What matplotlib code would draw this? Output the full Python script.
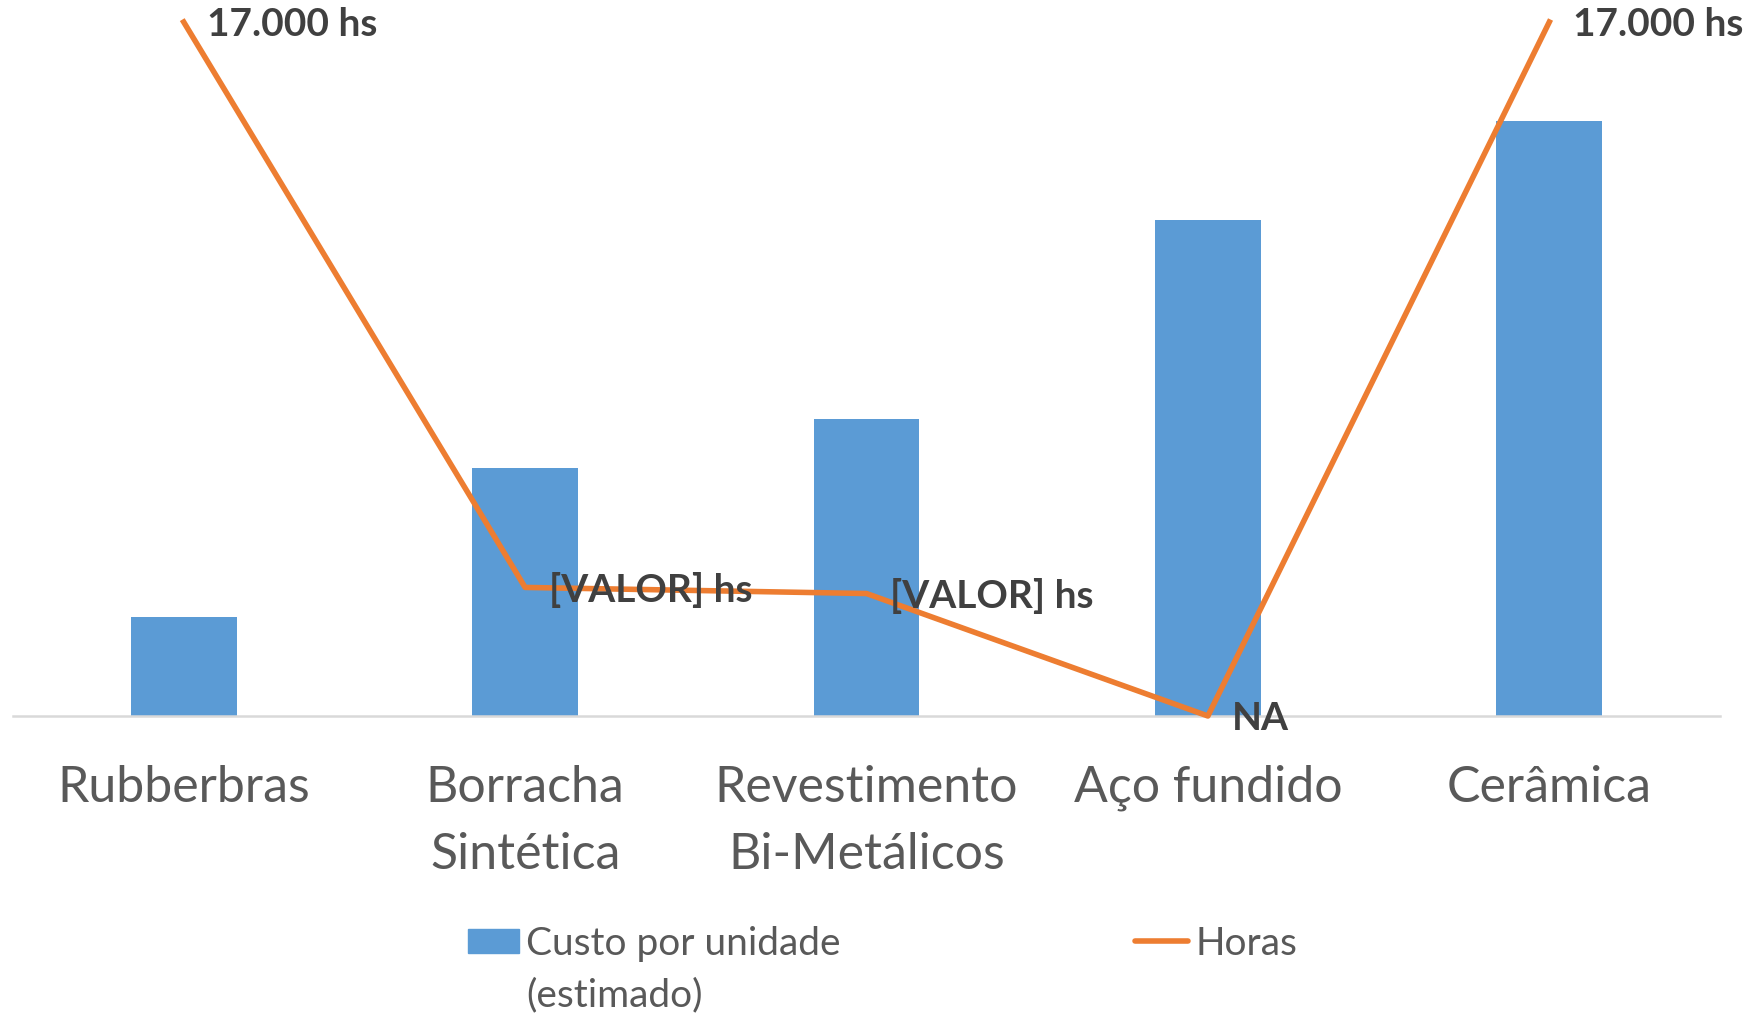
import matplotlib
matplotlib.use("Agg")
import matplotlib.pyplot as plt
from matplotlib.patches import Rectangle
from matplotlib.lines import Line2D
import numpy as np

# === Dados ===
categorias = ["Rubberbras", "Borracha\nSintética", "Revestimento\nBi-Metálicos", "Aço fundido", "Cerâmica"]
custo = [1.0, 2.5, 3.0, 5.0, 6.0]          # custo por unidade (estimado), escala relativa
horas = [17000, 3150, 3000, 0, 17000]
rotulos_horas = ["17.000 hs", "[VALOR] hs", "[VALOR] hs", "NA", "17.000 hs"]

AZUL = "#5B9BD5"
LARANJA = "#ED7D31"
CINZA_TXT = "#595959"
CINZA_ROT = "#404040"

plt.rcParams["font.family"] = ["Lato", "DejaVu Sans"]

fig = plt.figure(figsize=(17.51, 10.13), dpi=100)
W, H = 1751, 1013
ax = fig.add_axes([13 / W, (H - 716) / H, (1720 - 13) / W, (716 - 22) / H])
ax2 = ax.twinx()

x = np.arange(len(categorias))
ax.bar(x, custo, width=0.31, color=AZUL, zorder=2)
ax.set_ylim(0, 7)
ax.set_xlim(-0.5, len(categorias) - 0.5)

ax2.plot(x, horas, color=LARANJA, lw=4, clip_on=False, zorder=3)
ax2.set_ylim(0, 17000)

for xi, yi, txt in zip(x, horas, rotulos_horas):
    ax2.annotate(txt, (xi, yi), xytext=(17, -2), textcoords="offset points",
                 ha="left", va="center", fontsize=28, fontweight="bold",
                 color=CINZA_ROT, annotation_clip=False, zorder=4)

# eixo
for a in (ax, ax2):
    for s in a.spines.values():
        s.set_visible(False)
    a.set_yticks([])
ax.spines["bottom"].set_visible(True)
ax.spines["bottom"].set_color("#D9D9D9")
ax.spines["bottom"].set_linewidth(1.8)
ax.set_xticks(x)
ax.set_xticklabels(categorias, fontsize=36, color=CINZA_TXT, linespacing=1.58)
ax.tick_params(axis="x", length=0, pad=35)
ax2.tick_params(axis="x", length=0)

# legenda
fig.patches.append(Rectangle((468 / W, 1 - 953 / H), 51 / W, 24 / H,
                             transform=fig.transFigure, color=AZUL))
fig.text(526 / W, 1 - 944 / H, "Custo por unidade", fontsize=28,
         color=CINZA_TXT, va="center", ha="left")
fig.text(526 / W, 1 - 995 / H, "(estimado)", fontsize=28,
         color=CINZA_TXT, va="center", ha="left")
fig.lines.append(Line2D([1135 / W, 1188 / W], [1 - 941 / H, 1 - 941 / H],
                        transform=fig.transFigure, color=LARANJA, lw=4,
                        solid_capstyle="round"))
fig.text(1195 / W, 1 - 944 / H, "Horas", fontsize=28, color=CINZA_TXT,
         va="center", ha="left")

fig.savefig("out.png", dpi=100)
